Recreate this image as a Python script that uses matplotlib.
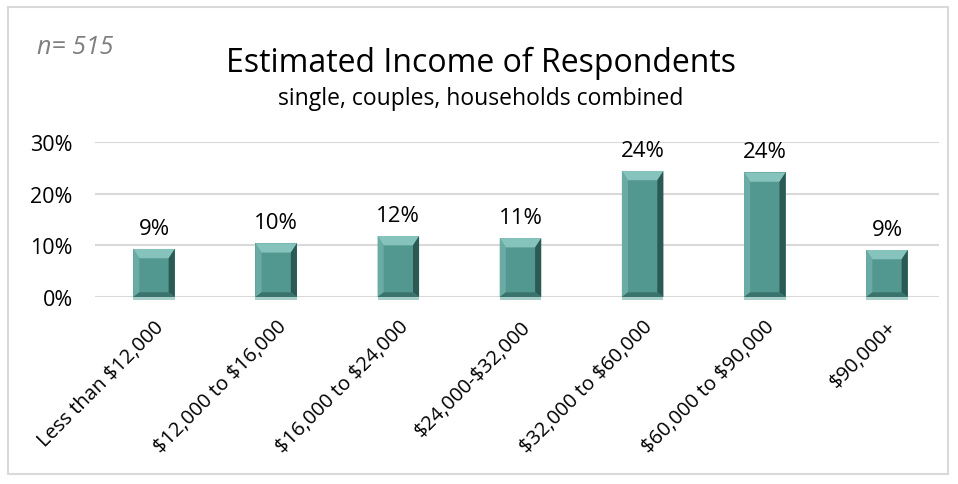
import matplotlib.pyplot as plt
from matplotlib.patches import Polygon, Rectangle

categories = ["Less than $12,000", "$12,000 to $16,000", "$16,000 to $24,000",
              "$24,000-$32,000", "$32,000 to $60,000", "$60,000 to $90,000", "$90,000+"]
shares = [9.3, 10.4, 11.8, 11.4, 24.4, 24.1, 9.1]
yticks = [0, 10, 20, 30]

plt.rcParams['font.family'] = ['Open Sans', 'DejaVu Sans']
plt.rcParams['text.parse_math'] = False

face = '#529891'
top_c = '#86c3bc'
left_c = '#6aaca5'
right_c = '#2b5a55'
bottom_c = '#3a726c'

fig = plt.figure(figsize=(9.58, 4.85), dpi=100)
ax = fig.add_axes([95 / 958, 187 / 485, 844 / 958, 155 / 485])

x = list(range(len(categories)))
width = 0.34
bars = ax.bar(x, shares, width=width, color=face, zorder=3)

# bevel facets on every bar
dx, dy = 0.05, 1.8
for b, v in zip(bars, shares):
    x0 = b.get_x()
    x1 = x0 + b.get_width()
    ax.add_patch(Polygon([(x0, v), (x1, v), (x1 - dx, v - dy), (x0 + dx, v - dy)],
                         closed=True, color=top_c, zorder=4, lw=0))
    ax.add_patch(Polygon([(x0, 0), (x0, v), (x0 + dx, v - dy), (x0 + dx, dy * 0.5)],
                         closed=True, color=left_c, zorder=4, lw=0))
    ax.add_patch(Polygon([(x1, 0), (x1, v), (x1 - dx, v - dy), (x1 - dx, dy * 0.5)],
                         closed=True, color=right_c, zorder=4, lw=0))
    ax.add_patch(Polygon([(x0, 0), (x1, 0), (x1 - dx, dy * 0.5), (x0 + dx, dy * 0.5)],
                         closed=True, color=bottom_c, zorder=4, lw=0))
    ax.add_patch(Rectangle((x0, -0.6), b.get_width(), 0.6, color='#a9cfcb',
                           zorder=2, lw=0, clip_on=False))
    ax.text(b.get_x() + b.get_width() / 2, v + 2.0, f"{v:.0f}%", ha='center',
            va='bottom', fontsize=16, color='black', clip_on=False)

ax.set_xlim(-0.483, 6.426)
ax.set_ylim(0, 30)
ax.set_yticks(yticks)
ax.set_yticklabels([f"{t}%" for t in yticks], fontsize=15.5)
ax.yaxis.grid(True, color='#d9d9d9', lw=1.5, zorder=0)
ax.tick_params(axis='y', length=0, pad=16)
ax.set_xticks(x)
ax.set_xticklabels(categories, rotation=45, ha='right', rotation_mode='anchor', fontsize=14.5)
ax.tick_params(axis='x', length=0, pad=14)
for s in ax.spines.values():
    s.set_visible(False)

fig.text(481 / 958, 1 - 63 / 485, "Estimated Income of Respondents", ha='center',
         va='center', fontsize=23)
fig.text(481 / 958, 1 - 99 / 485, "single, couples, households combined", ha='center',
         va='center', fontsize=16.5)
fig.text(37 / 958, 1 - 48 / 485, "n= 515", ha='left', va='center', fontsize=18,
         style='italic', color='#7f7f7f')

fig.add_artist(Rectangle((8 / 958, 10 / 485), 940 / 958, 467 / 485, transform=fig.transFigure,
                         fill=False, ec='#d9d9d9', lw=1.5))

plt.savefig("out.png", dpi=100)
